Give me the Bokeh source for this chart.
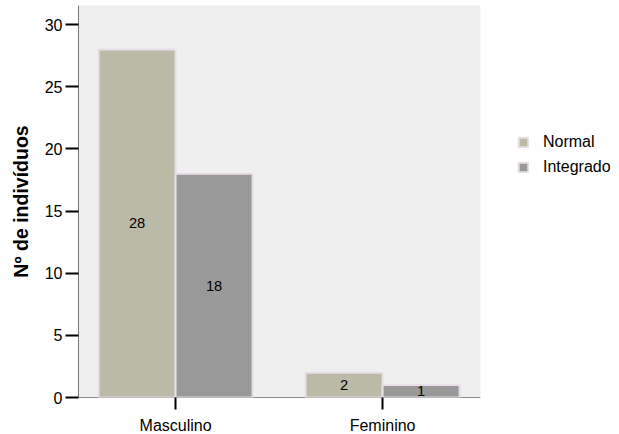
from bokeh.plotting import figure
from bokeh.models import Range1d, FixedTicker, Legend, LegendItem, Span, ColumnDataSource
from bokeh.core.properties import value
from bokeh.embed import file_html
from bokeh.resources import INLINE

# ---- data ----
categories = ["Masculino", "Feminino"]
series_names = ["Normal", "Integrado"]
normal = [28, 2]
integrado = [18, 1]
y_ticks = [0, 5, 10, 15, 20, 25, 30]
y_label = "Nº de indivíduos"

# ---- style ----
FONT = "Liberation Sans"
colors = ["#bbbaa6", "#999999"]
border = "#e8dee8"
bar_w = 0.372

pos = [i + 1 for i in range(len(categories))]
src_n = ColumnDataSource(dict(x=[c - bar_w / 2 for c in pos], top=normal,
                              ymid=[v / 2 for v in normal], lab=[str(v) for v in normal]))
src_i = ColumnDataSource(dict(x=[c + bar_w / 2 for c in pos], top=integrado,
                              ymid=[v / 2 for v in integrado], lab=[str(v) for v in integrado]))

p = figure(frame_width=402, frame_height=392, output_backend="svg", toolbar_location=None,
           x_range=Range1d(0.531, 2.473), y_range=Range1d(0, 31.53),
           min_border_left=78, min_border_right=139, min_border_top=5, min_border_bottom=37)

p.background_fill_color = "#efefef"
p.border_fill_color = "white"
p.outline_line_color = None
p.xgrid.visible = False
p.ygrid.visible = False

# baseline under bars
p.add_layout(Span(location=0, dimension="width", line_color="#222222", line_width=1, level="underlay"))

r1 = p.vbar(x="x", top="top", width=bar_w, source=src_n, fill_color=colors[0],
            line_color=border, line_width=2)
r2 = p.vbar(x="x", top="top", width=bar_w, source=src_i, fill_color=colors[1],
            line_color=border, line_width=2)

for src in (src_n, src_i):
    p.text(x="x", y="ymid", text="lab", source=src, text_align="center",
           text_baseline="middle", text_font=value(FONT), text_font_size="14.7px",
           text_color="black")

# y axis
ya = p.yaxis[0]
ya.ticker = FixedTicker(ticks=y_ticks)
ya.axis_line_color = "#777777"
ya.axis_line_width = 1
ya.major_tick_line_color = "black"
ya.major_tick_line_width = 2
ya.major_tick_out = 13
ya.major_tick_in = 0
ya.minor_tick_line_color = None
ya.major_label_standoff = 3
ya.major_label_text_font = FONT
ya.major_label_text_font_size = "16px"
ya.major_label_text_color = "black"
ya.axis_label = y_label
ya.axis_label_text_font = FONT
ya.axis_label_text_font_size = "19.5px"
ya.axis_label_text_font_style = "bold"
ya.axis_label_text_color = "black"
ya.axis_label_standoff = 10

# x axis
xa = p.xaxis[0]
xa.ticker = FixedTicker(ticks=pos)
xa.major_label_overrides = {c: lab for c, lab in zip(pos, categories)}
xa.axis_line_color = None
xa.major_tick_line_color = "black"
xa.major_tick_line_width = 2
xa.major_tick_out = 12
xa.major_tick_in = 0
xa.minor_tick_line_color = None
xa.major_label_standoff = 7
xa.major_label_text_font = FONT
xa.major_label_text_font_size = "16px"
xa.major_label_text_color = "black"

legend = Legend(items=[LegendItem(label=series_names[0], renderers=[r1]),
                       LegendItem(label=series_names[1], renderers=[r2])],
                location=(37, 220), glyph_width=12, glyph_height=12,
                label_height=20, label_standoff=14, spacing=5, padding=0, margin=0,
                border_line_color=None, background_fill_alpha=0,
                label_text_font=FONT, label_text_font_size="16px",
                label_text_color="black")
p.add_layout(legend, "right")

open("out.html", "w").write(file_html(p, INLINE))
